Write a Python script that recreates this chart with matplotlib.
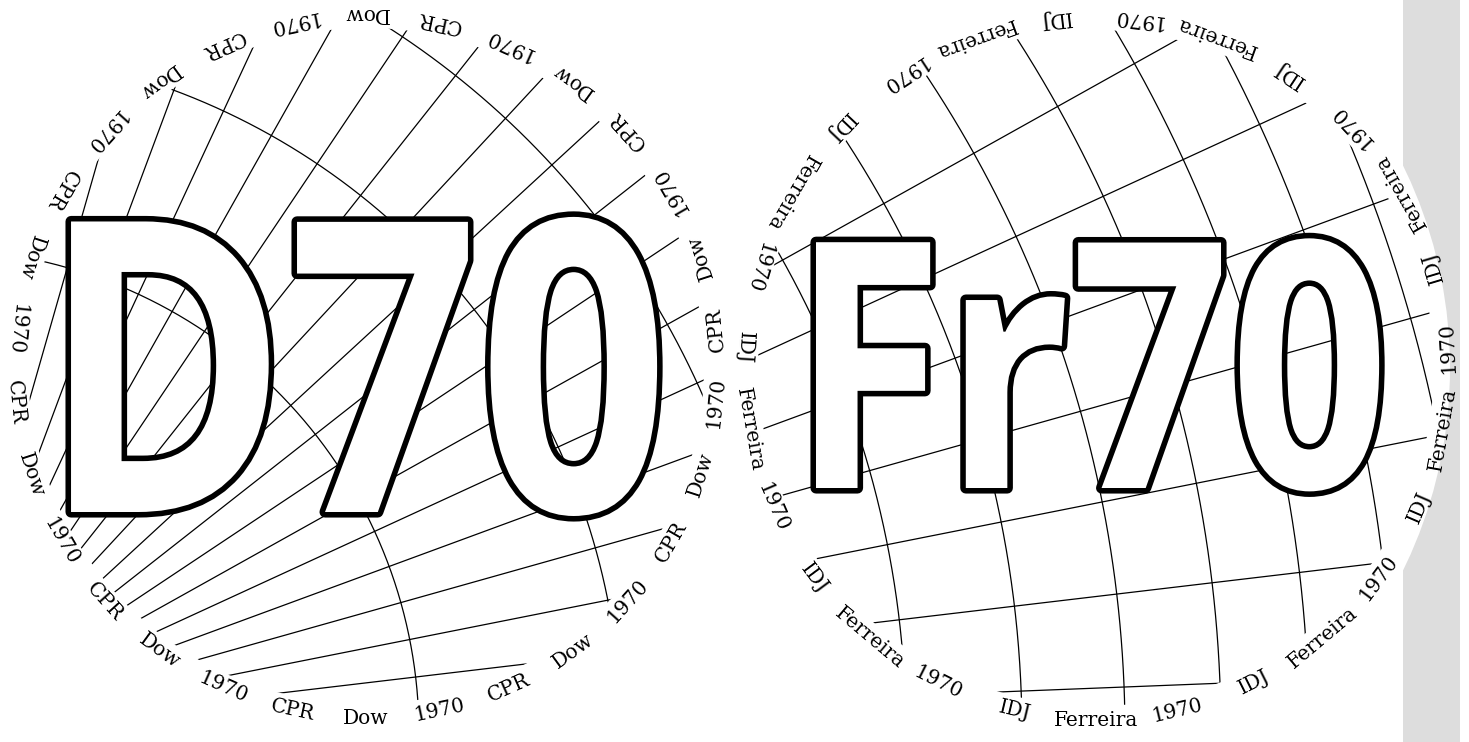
import numpy as np
import matplotlib
matplotlib.use("Agg")
import matplotlib.pyplot as plt
import matplotlib.patheffects as pe
from matplotlib.patches import Circle, Rectangle
from matplotlib.transforms import Affine2D
from matplotlib import font_manager

# ring labels (one label every 360/N degrees, starting at the bottom)
left_cycle = ["Dow", "1970", "CPR"]
left_count = 30
right_cycle = ["Ferreira", "1970", "IDJ"]
right_count = 27

# conic graticule shared by both discs
graticule_lon = [-85, -75, -65, -55, -45, -35, -25, -15, -5, 5, 15, 25, 35, 45, 55, 65, 75]
parallel_radius = [485, 687, 840, 972, 1088, 1191, 1287, 1375, 1459, 1534]

big_left = "D70"
big_right = "Fr70"

# layout (figure pixels)
W, H = 1469, 742
apex = (-66, 734)
cone_n = 0.4487
cone_theta0 = 40.4
clip_r = 338
label_r = 352
left_c = (366, 366)
right_c = (1096, 368)


def pick_font(names):
    for name in names:
        try:
            font_manager.findfont(font_manager.FontProperties(family=name, weight="bold"),
                                  fallback_to_default=False)
            return name
        except Exception:
            pass
    return "DejaVu Sans"


big_font = pick_font(["Open Sans", "Noto Sans", "DejaVu Sans"])


class ScaledOutline(pe.AbstractPathEffect):
    """Outline + fill, with the glyphs scaled by (sx, sy) around (x0, y0) in display px."""

    def __init__(self, x0, y0, sx, sy, linewidth, edge):
        super().__init__()
        self.x0, self.y0, self.sx, self.sy = x0, y0, sx, sy
        self.linewidth, self.edge = linewidth, edge

    def draw_path(self, renderer, gc, tpath, affine, rgbFace=None):
        aff = affine + (Affine2D().translate(-self.x0, -self.y0)
                        .scale(self.sx, self.sy).translate(self.x0, self.y0))
        gc0 = renderer.new_gc()
        gc0.copy_properties(gc)
        gc0.set_foreground(self.edge)
        gc0.set_linewidth(self.linewidth)
        renderer.draw_path(gc0, tpath, aff, rgbFace)
        gc0.restore()
        renderer.draw_path(gc, tpath, aff, rgbFace)


fig = plt.figure(figsize=(W / 100, H / 100), dpi=100)
ax = fig.add_axes([0, 0, 1, 1])
ax.set_xlim(0, W)
ax.set_ylim(H, 0)
ax.axis("off")

# grey strip on the right with the white disc over it
ax.add_patch(Rectangle((1403, 0), 57, H, facecolor="#dddddd", edgecolor="none", zorder=0))
ax.add_patch(Circle((990, 368), 460, facecolor="white", edgecolor="none", zorder=0.5))


def draw_graticule(center):
    clip = Circle(center, clip_r, transform=ax.transData)
    for lon in graticule_lon:
        th = np.deg2rad(cone_theta0 + cone_n * lon)
        xs = [apex[0], apex[0] + 2600 * np.cos(th)]
        ys = [apex[1], apex[1] - 2600 * np.sin(th)]
        ln, = ax.plot(xs, ys, color="black", lw=0.9, zorder=2)
        ln.set_clip_path(clip)
    t = np.deg2rad(np.linspace(-15, 100, 800))
    for r in parallel_radius:
        ln, = ax.plot(apex[0] + r * np.cos(t), apex[1] - r * np.sin(t),
                      color="black", lw=0.9, zorder=2)
        ln.set_clip_path(clip)


def draw_ring(center, cycle, count):
    step = 360.0 / count
    for k in range(count):
        phi = -90 + step * k
        a = np.deg2rad(phi)
        x = center[0] + label_r * np.cos(a)
        y = center[1] - label_r * np.sin(a)
        ax.text(x, y, cycle[k % len(cycle)], rotation=phi + 90, rotation_mode="anchor",
                ha="center", va="center", fontsize=14.5, family="DejaVu Serif",
                color="black", zorder=6)


def draw_big(s, x, baseline, size, sx, sy):
    x0, y0 = ax.transData.transform((x, baseline))
    ax.text(x, baseline, s, ha="center", va="baseline", fontsize=size,
            fontweight="bold", family=big_font, color="white", zorder=5,
            path_effects=[ScaledOutline(x0, y0, sx, sy, 8, "black")])


draw_graticule(left_c)
draw_graticule(right_c)
draw_ring(left_c, left_cycle, left_count)
draw_ring(right_c, right_cycle, right_count)

draw_big(big_left, 355, 512, 250, 0.961, 1.172)
draw_big(big_right, 1090, 488, 215, 0.934, 1.153)

fig.savefig("out.png", dpi=100)
